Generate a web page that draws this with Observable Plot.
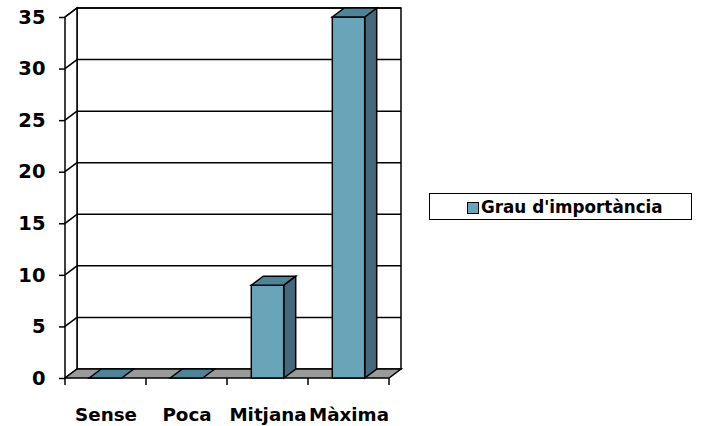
<!DOCTYPE html>
<html><head><meta charset="utf-8">
<script src="https://cdn.jsdelivr.net/npm/d3@7"></script>
<script src="https://cdn.jsdelivr.net/npm/@observablehq/plot@0.6"></script>
<style>
body{margin:0;background:#fff;}
#wrap{position:relative;width:702px;height:426px;font-family:"DejaVu Sans",Verdana,sans-serif;}
#legend{position:absolute;left:429px;top:193px;width:261px;height:25px;border:1.5px solid #000;background:#fff;font-weight:bold;font-size:16.8px;color:#000;}
#legend .mk{position:absolute;left:37px;top:8px;width:10px;height:10px;border:1px solid #000;}
#legend .tx{position:absolute;left:51px;top:3px;white-space:nowrap;}
</style></head><body><div id="wrap"></div>
<script>
const categories = ["Sense", "Poca", "Mitjana", "Màxima"];
const values = [0, 0, 9, 35];
const yTicks = [0, 5, 10, 15, 20, 25, 30, 35];
const seriesName = "Grau d'importància";

const colFront = "#69a5b9", colTop = "#4d8497", colSide = "#43697a", colFloor = "#9a9a9a";
const DX = 12, DY = 9, SW = 1.5;

const data = categories.map((c, i) => ({category: c, value: values[i]}));

function scene(index, scales, channels, dims) {
  const x = scales.x, y = scales.y;
  const bw = x.bandwidth();
  const x0 = dims.marginLeft, x1 = dims.width - dims.marginRight;
  const yb = y(0), yt = y(d3.max(yTicks));
  const g = d3.create("svg:g").attr("stroke", "#000").attr("stroke-width", SW).attr("stroke-linejoin", "miter");
  const poly = (pts, fill) => g.append("polygon").attr("points", pts.map(p => p.join(",")).join(" ")).attr("fill", fill);
  const line = (a, b) => g.append("line").attr("x1", a[0]).attr("y1", a[1]).attr("x2", b[0]).attr("y2", b[1]);
  // back wall
  poly([[x0 + DX, yt - DY], [x1 + DX, yt - DY], [x1 + DX, yb - DY], [x0 + DX, yb - DY]], "#fff");
  for (const t of yTicks) if (t > 0) line([x0 + DX, y(t) - DY], [x1 + DX, y(t) - DY]);
  // left wall
  poly([[x0, yt], [x0 + DX, yt - DY], [x0 + DX, yb - DY], [x0, yb]], "#fff");
  for (const t of yTicks) if (t > 0) line([x0, y(t)], [x0 + DX, y(t) - DY]);
  // floor
  poly([[x0, yb], [x1, yb], [x1 + DX, yb - DY], [x0 + DX, yb - DY]], colFloor);
  // category boundary ticks
  categories.forEach(c => line([x(c), yb], [x(c), yb + 7]));
  line([x(categories[categories.length - 1]) + bw, yb], [x(categories[categories.length - 1]) + bw, yb + 7]);
  // bars
  const w = bw * 0.4;
  for (const d of data) {
    const l = x(d.category) + (bw - w) / 2, r = l + w, top = y(d.value);
    if (d.value > 0) {
      poly([[r, top], [r + DX, top - DY], [r + DX, yb - DY], [r, yb]], colSide);
      poly([[l, yb], [r, yb], [r, top], [l, top]], colFront);
    }
    poly([[l, top], [r, top], [r + DX, top - DY], [l + DX, top - DY]], colTop);
  }
  return g.node();
}

const chart = Plot.plot({
  width: 702, height: 426,
  marginLeft: 65, marginRight: 313, marginTop: 17, marginBottom: 48,
  style: {fontFamily: "'DejaVu Sans', Verdana, sans-serif", fontWeight: "bold", background: "transparent", color: "#000"},
  x: {type: "band", domain: categories, padding: 0},
  y: {domain: [0, 35]},
  marks: [
    scene,
    Plot.axisY({ticks: yTicks, tickSize: 6, tickPadding: 14, fontSize: 19.5, label: null, strokeWidth: SW}),
    Plot.axisX({tickSize: 0, tickPadding: 29, fontSize: 18.3, label: null})
  ]
});
document.getElementById("wrap").appendChild(chart);
const lg = document.createElement("div");
lg.id = "legend";
lg.innerHTML = `<span class="mk" style="background:${colFront}"></span><span class="tx"></span>`;
lg.querySelector(".tx").textContent = seriesName;
document.getElementById("wrap").appendChild(lg);
</script>
</body></html>
